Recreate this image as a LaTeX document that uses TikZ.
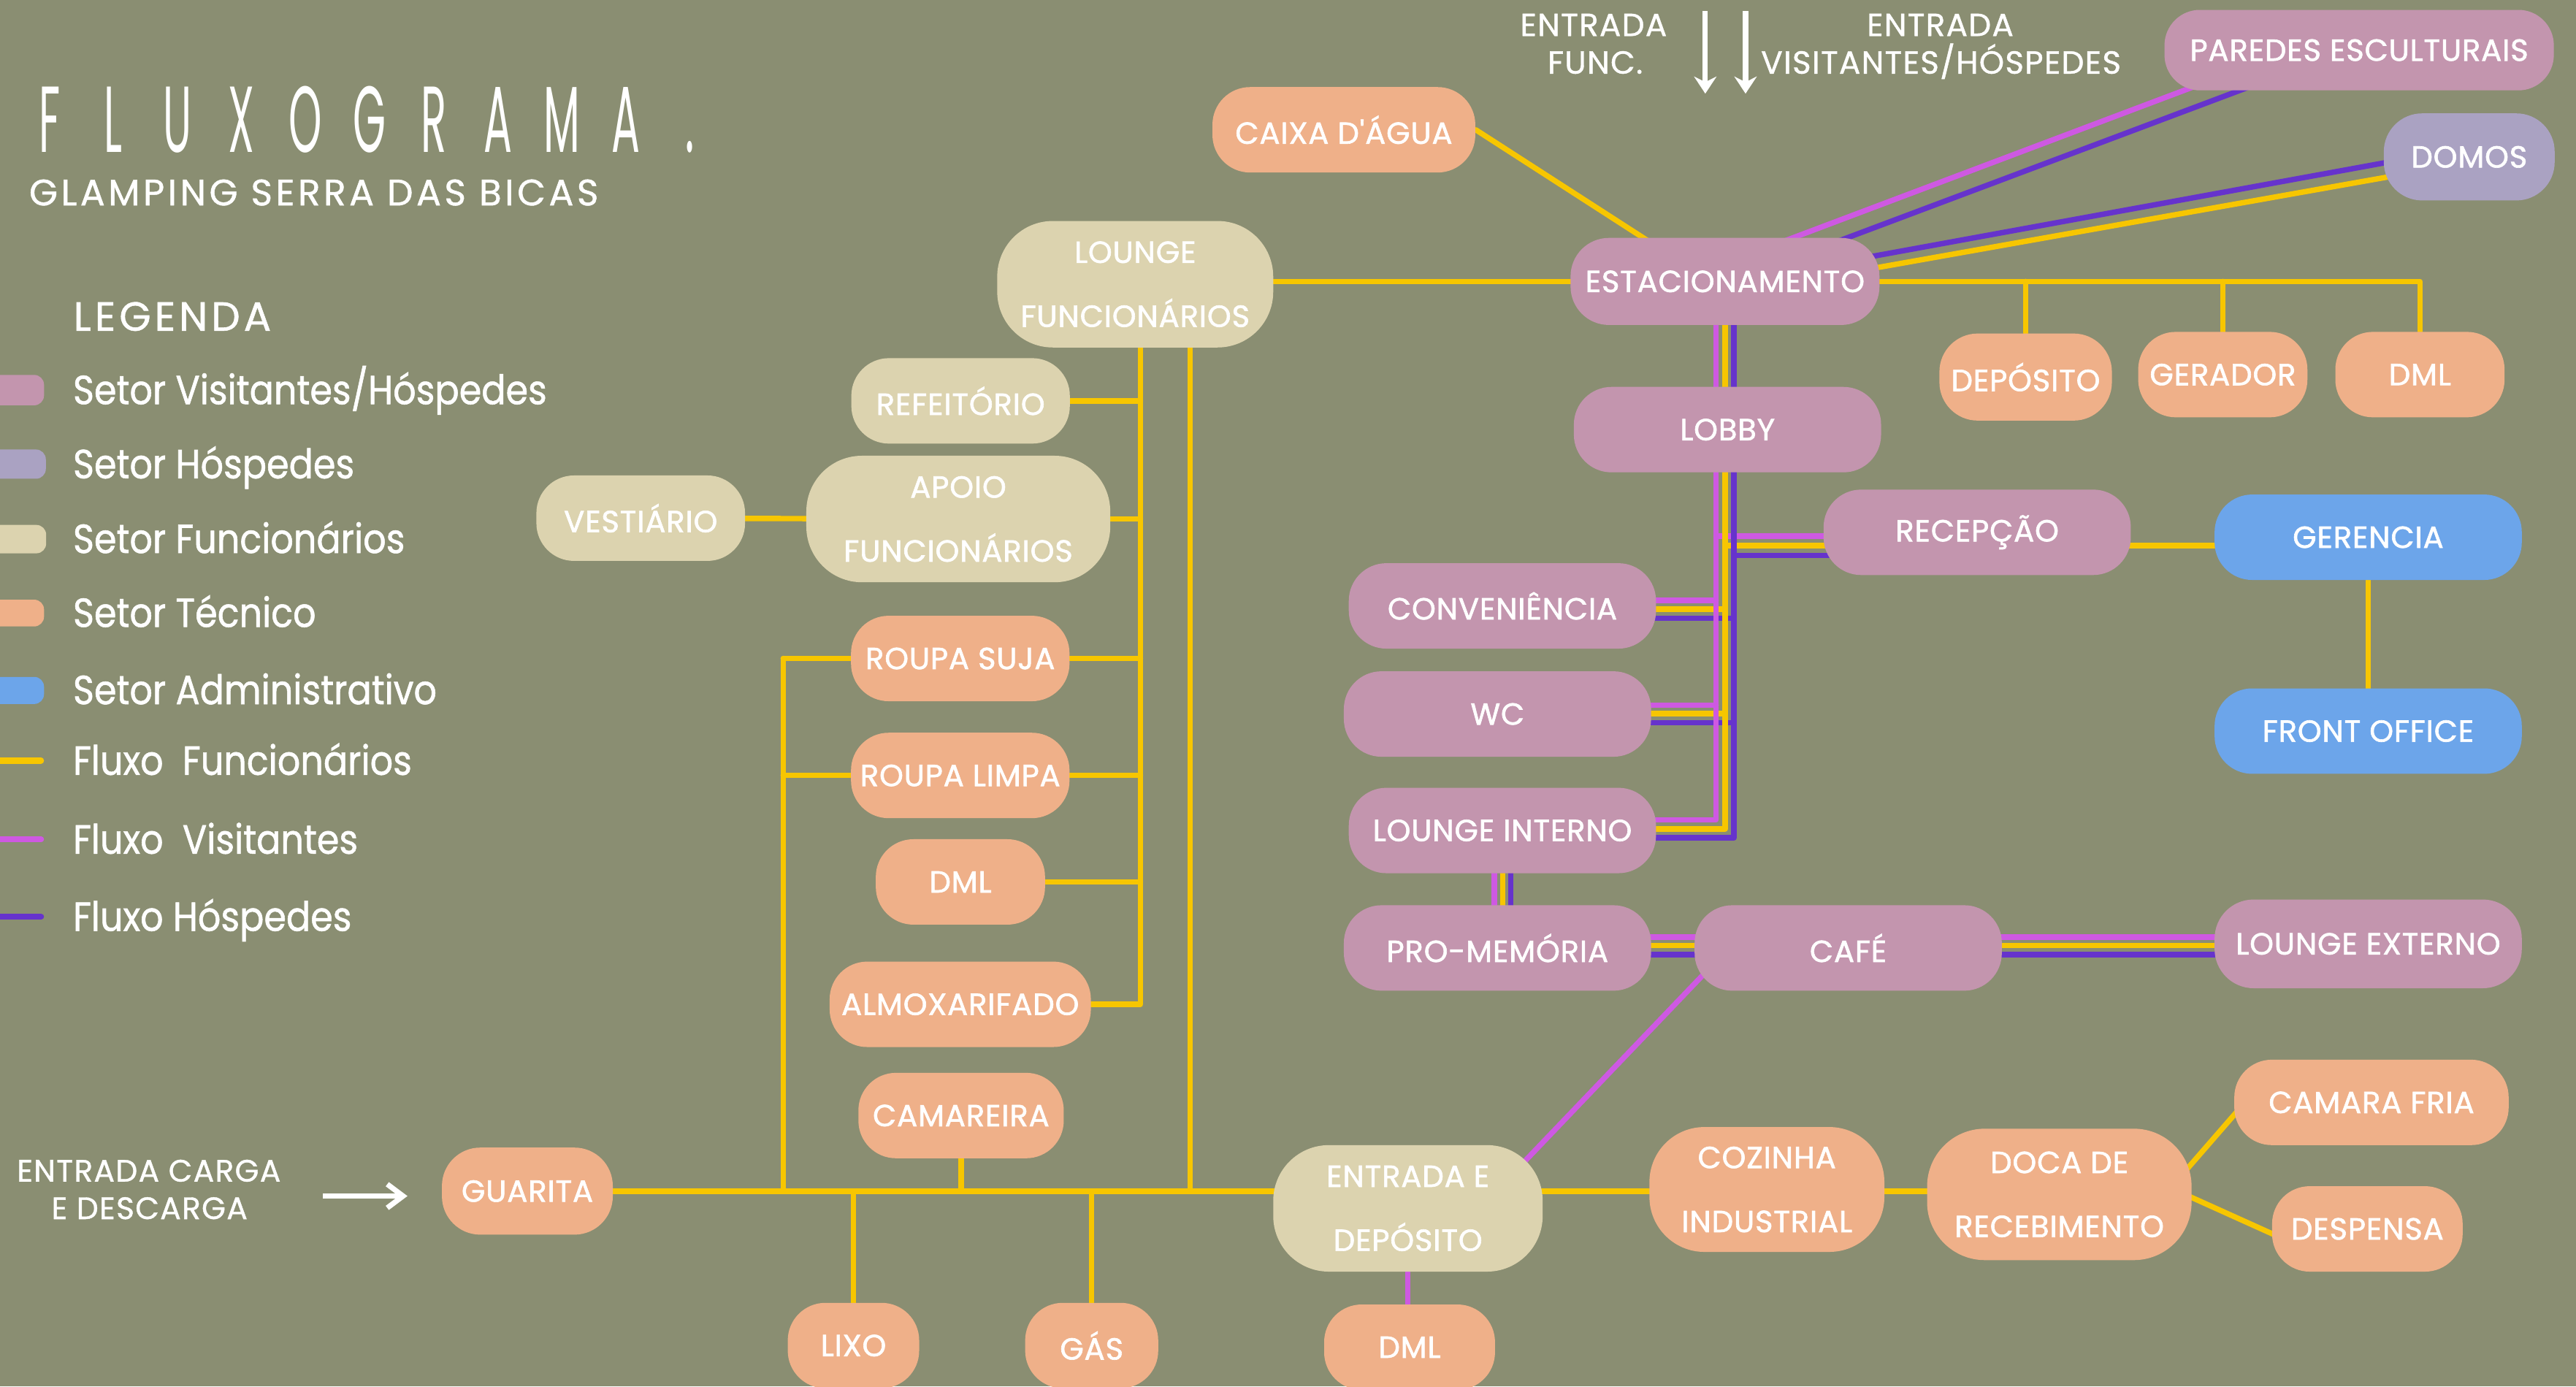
\documentclass[tikz,border=0pt]{standalone}
\usepackage{fontspec}
\setmainfont{Poppins}
\newfontfamily\ttlfont[FakeStretch=0.45]{Poppins}
\newfontfamily\nodef[LetterSpace=2,FakeBold=1.5]{Poppins}
\newfontfamily\legf[FakeStretch=0.885,FakeBold=1]{Poppins}
\newfontfamily\subf[LetterSpace=9,FakeBold=1]{Poppins}
\newfontfamily\lblf[LetterSpace=3,FakeBold=1]{Poppins}
\usetikzlibrary{calc,arrows.meta}
\definecolor{cbg}{RGB}{138,142,114}
\definecolor{cvis}{RGB}{195,149,174}
\definecolor{chos}{RGB}{170,162,194}
\definecolor{cfun}{RGB}{220,211,175}
\definecolor{ctec}{RGB}{239,176,137}
\definecolor{cadm}{RGB}{108,165,234}
\definecolor{cyel}{RGB}{247,198,0}
\definecolor{cmag}{RGB}{206,89,226}
\definecolor{cpur}{RGB}{102,51,204}
\pgfdeclarelayer{back}
\pgfdeclarelayer{lines}
\pgfsetlayers{back,lines,main}
\newcommand\tlet[1]{\makebox[27.74pt]{#1}}
\begin{document}
\begin{tikzpicture}[x=0.25mm,y=-0.25mm,
 box/.style={rectangle, inner sep=0pt, text=white, align=center, font=\nodef\fontsize{13.2}{27.7}\selectfont},
 sz/.style 2 args={minimum width={#1*0.25mm}, minimum height={#2*0.25mm}, rounded corners={#2*0.11mm}},
 svis/.style={box, fill=cvis}, shos/.style={box, fill=chos}, sfun/.style={box, fill=cfun},
 stec/.style={box, fill=ctec}, sadm/.style={box, fill=cadm},
 ln/.style={line width=0.825mm, line cap=round, line join=round},
 yel/.style={ln, draw=cyel}, mag/.style={ln, draw=cmag}, pur/.style={ln, draw=cpur},
 leg/.style={anchor=base west, inner sep=0pt, text=white, font=\legf\fontsize{17.6}{20}\selectfont},
 lbl/.style={anchor=base, inner sep=0pt, text=white, font=\lblf\fontsize{13.8}{16}\selectfont},
 warrow/.style={draw=white, line width=0.8mm}
]
\useasboundingbox (0,0) rectangle (1568,844);
\begin{pgfonlayer}{back}
\fill[cbg] (0,0) rectangle (1568,844);
\end{pgfonlayer}

% title
\node[anchor=base west, inner sep=0pt, text=white, font=\ttlfont\fontsize{40.6}{41}\selectfont] (ttl) at (10.3,92.7)
 {\tlet{F}\tlet{L}\tlet{U}\tlet{X}\tlet{O}\tlet{G}\tlet{R}\tlet{A}\tlet{M}\tlet{A}\tlet{.}};
\node[anchor=base west, inner sep=0pt, text=white, font=\subf\fontsize{15.9}{17}\selectfont] (sub) at (17.5,125) {GLAMPING SERRA DAS BICAS};

% legend
\node[anchor=base west, inner sep=0pt, text=white, font=\subf\fontsize{17.6}{20}\selectfont] (lgt) at (44.5,201.3) {LEGENDA};
\fill[cvis, rounded corners=1.5mm] (-30,228.2) rectangle (26.8,246.7);
\fill[chos, rounded corners=1.5mm] (-30,273.6) rectangle (27.9,291.4);
\fill[cfun, rounded corners=1.5mm] (-30,319.5) rectangle (28.1,336.8);
\fill[ctec, rounded corners=1.5mm] (-30,365) rectangle (26.8,381.3);
\fill[cadm, rounded corners=1.5mm] (-30,412) rectangle (26.8,428.5);
\draw[cyel, line width=0.9mm, line cap=round] (-10,463) -- (25,463);
\draw[cmag, line width=0.9mm, line cap=round] (-10,511) -- (25,511);
\draw[cpur, line width=0.9mm, line cap=round] (-10,558) -- (25,558);
\node[leg] (l1) at (44.2,246) {Setor Visitantes/Hóspedes};
\node[leg] (l2) at (44.2,291.1) {Setor Hóspedes};
\node[leg] (l3) at (44.2,336.6) {Setor Funcionários};
\node[leg] (l4) at (44.2,381.6) {Setor Técnico};
\node[leg] (l5) at (44.2,428.6) {Setor Administrativo};
\node[leg] (l6) at (44.2,471.6) {Fluxo\ \ Funcionários};
\node[leg] (l7) at (44.2,519.6) {Fluxo\ \ Visitantes};
\node[leg] (l8) at (44.2,566.6) {Fluxo Hóspedes};

% top labels
\node[lbl] (ef1) at (970,21.9) {ENTRADA};
\node[lbl] (ef2) at (971,44.8) {FUNC.};
\node[lbl] (ev1) at (1181,21.9) {ENTRADA};
\node[lbl] (ev2) at (1181.5,44.8) {VISITANTES/HÓSPEDES};
\coordinate (a1s) at (1038,6.7); \coordinate (a1e) at (1038,57);
\coordinate (a2s) at (1062.5,6.7); \coordinate (a2e) at (1062.5,57);
\draw[warrow, -{Stealth[length=2.6mm,width=3.4mm]}] (a1s) -- (a1e);
\draw[warrow, -{Stealth[length=2.6mm,width=3.4mm]}] (a2s) -- (a2e);

% entrada carga
\node[lbl, font=\lblf\fontsize{13.4}{15}\selectfont] (ec1) at (90.6,719.2) {ENTRADA CARGA};
\node[lbl, font=\lblf\fontsize{13.4}{15}\selectfont] (ec2) at (91,742) {E DESCARGA};
\coordinate (ecs) at (196.5,728); \coordinate (ece) at (248,728);
\draw[warrow, -{Straight Barb[length=2.4mm,width=3.6mm]}] (ecs) -- (ece);

% nodes
\node[stec, sz={160}{52}] (caixa) at (818,79) {CAIXA D'ÁGUA};
\node[sfun, sz={168}{77}] (lf) at (691,173) {LOUNGE\\FUNCIONÁRIOS};
\node[svis, sz={188}{53}] (est) at (1050,171.3) {ESTACIONAMENTO};
\node[svis, sz={237}{49}] (par) at (1436,30.5) {PAREDES ESCULTURAIS};
\node[shos, sz={104}{53}] (dom) at (1503,95.5) {DOMOS};
\node[stec, sz={105}{53}] (dep) at (1233,229.5) {DEPÓSITO};
\node[stec, sz={103}{52}] (gera) at (1353,228) {GERADOR};
\node[stec, sz={103}{52}] (dmlt) at (1473,228) {DML};
\node[svis, sz={187}{52}] (lobby) at (1051.5,261.5) {LOBBY};
\node[svis, sz={187}{52}] (rec) at (1203.5,324) {RECEPÇÃO};
\node[sadm, sz={187}{52}] (gerc) at (1441.5,327) {GERENCIA};
\node[sadm, sz={187}{52}] (fo) at (1441.5,445) {FRONT OFFICE};
\node[svis, sz={187}{52}] (conv) at (914.5,368.8) {CONVENIÊNCIA};
\node[svis, sz={187}{52}] (wc) at (911.5,434.6) {WC};
\node[svis, sz={187}{52}] (lint) at (914.5,505.5) {LOUNGE INTERNO};
\node[svis, sz={187}{52}] (pm) at (911.5,577) {PRO-MEMÓRIA};
\node[svis, sz={187}{52}] (cafe) at (1125,577) {CAFÉ};
\node[svis, sz={187}{54}] (lext) at (1441.5,574.5) {LOUNGE EXTERNO};
\node[stec, sz={167}{52}] (cf) at (1443.5,671) {CAMARA FRIA};
\node[stec, sz={116}{52}] (desp) at (1441,748) {DESPENSA};
\node[stec, sz={161}{80}] (doca) at (1253.5,727) {DOCA DE\\RECEBIMENTO};
\node[stec, sz={143}{76}] (coz) at (1075.5,724) {COZINHA\\INDUSTRIAL};
\node[sfun, sz={164}{77}] (ent) at (857,735.5) {ENTRADA E\\DEPÓSITO};
\node[stec, sz={104}{52}] (dmlb) at (858,820) {DML};
\node[stec, sz={80}{52}] (lixo) at (519.5,819) {LIXO};
\node[stec, sz={81}{52}] (gas) at (664.5,819) {GÁS};
\node[stec, sz={104}{53}] (gua) at (321,725) {GUARITA};
\node[stec, sz={125}{52}] (cam) at (585,679) {CAMAREIRA};
\node[stec, sz={159}{52}] (alm) at (584.5,611.3) {ALMOXARIFADO};
\node[stec, sz={103}{52}] (dmll) at (584.6,536.8) {DML};
\node[stec, sz={133}{52}] (rl) at (584.5,472) {ROUPA LIMPA};
\node[stec, sz={133}{52}] (rs) at (584.5,400.8) {ROUPA SUJA};
\node[sfun, sz={185}{77}] (apo) at (583.3,315.9) {APOIO\\FUNCIONÁRIOS};
\node[sfun, sz={133}{52}] (refe) at (584.7,244) {REFEITÓRIO};
\node[sfun, sz={127}{52}] (ves) at (390,315.4) {VESTIÁRIO};

\begin{pgfonlayer}{lines}
% top
\draw[yel] (caixa.east) -- ($(est.north)+(-47,2)$);
\draw[yel] (lf.center |- est.center) -- (est.center);
\draw[mag] ($(est.north)+(34,3)$) -- ($(par.south)+(-102,-2)$);
\draw[pur] ($(est.north)+(67,3)$) -- ($(par.south)+(-68,-2)$);
\draw[pur] ($(est.east)+(-6,-15)$) -- ($(dom.west)+(4,3)$);
\draw[yel] ($(est.east)+(-4,-8)$) -- ($(dom.west)+(4,12)$);
\draw[yel] (est.center) -- (dmlt.north |- est.center) -- (dmlt.north);
\draw[yel] (dep.north |- est.center) -- (dep.north);
\draw[yel] (gera.north |- est.center) -- (gera.north);
% visitor bus
\draw[mag] (conv.center |- 0,365.4) -- (1044.6,365.4);
\draw[mag] (wc.center |- 0,429.2) -- (1044.6,429.2);
\draw[mag] (1044.6,326.4) -- (rec.center |- 0,326.4);
\draw[yel] (conv.center |- 0,370.8) -- (1050,370.8);
\draw[yel] (wc.center |- 0,434.4) -- (1050,434.4);
\draw[yel] (1050,332) -- (gerc.center |- 0,332);
\draw[pur] (conv.center |- 0,376.2) -- (1055.4,376.2);
\draw[pur] (wc.center |- 0,439.8) -- (1055.4,439.8);
\draw[pur] (1055.4,338) -- (rec.center |- 0,338);
\draw[mag] (est.center -| 1044.6,0) -- (1044.6,499) -- (lint.center |- 0,499);
\draw[yel] (est.center -| 1050,0) -- (1050,504.5) -- (lint.center |- 0,504.5);
\draw[pur] (est.center -| 1055.4,0) -- (1055.4,510) -- (lint.center |- 0,510);
\draw[mag] (lint.center -| 909.5,0) -- (pm.center -| 909.5,0);
\draw[yel] (lint.center -| 914.7,0) -- (pm.center -| 914.7,0);
\draw[pur] (lint.center -| 919.7,0) -- (pm.center -| 919.7,0);
\draw[mag] (pm.center |- 0,570.3) -- (lext.center |- 0,570.3);
\draw[yel] (pm.center |- 0,575.6) -- (lext.center |- 0,575.6);
\draw[pur] (pm.center |- 0,581) -- (lext.center |- 0,581);
\draw[mag] ($(cafe.center)+(-81.1,8.8)$) -- ($(ent.center)+(63.1,-20.3)$);
\draw[mag] (ent.center) -- (ent.center |- dmlb.center);
\draw[yel] (gerc.center) -- (fo.center);
% service line
\draw[yel] (gua.center) -- (doca.center |- gua.center);
\draw[yel] ($(doca.center)+(73,-10)$) -- ($(cf.center)+(-77,0)$);
\draw[yel] ($(doca.center)+(72,-2)$) -- ($(desp.center)+(-49,7)$);
% staff tree
\draw[yel] (lf.center -| 694.2,0) -- (694.2,611.3) -- (alm.center);
\draw[yel] (lf.center -| 724.5,0) -- (gua.center -| 724.5,0);
\draw[yel] (refe.center) -- (refe.center -| 694.2,0);
\draw[yel] (ves.center) -- (apo.center);
\draw[yel] (apo.center) -- (apo.center -| 694.2,0);
\draw[yel] (rs.center -| 476.7,0) -- (rs.center -| 694.2,0);
\draw[yel] (rl.center -| 476.7,0) -- (rl.center -| 694.2,0);
\draw[yel] (dmll.center) -- (dmll.center -| 694.2,0);
\draw[yel] (rs.center -| 476.7,0) -- (gua.center -| 476.7,0);
\draw[yel] (cam.center) -- (cam.center |- gua.center);
\draw[yel] (lixo.center |- gua.center) -- (lixo.center);
\draw[yel] (gas.center |- gua.center) -- (gas.center);
\end{pgfonlayer}
\end{tikzpicture}
\end{document}
